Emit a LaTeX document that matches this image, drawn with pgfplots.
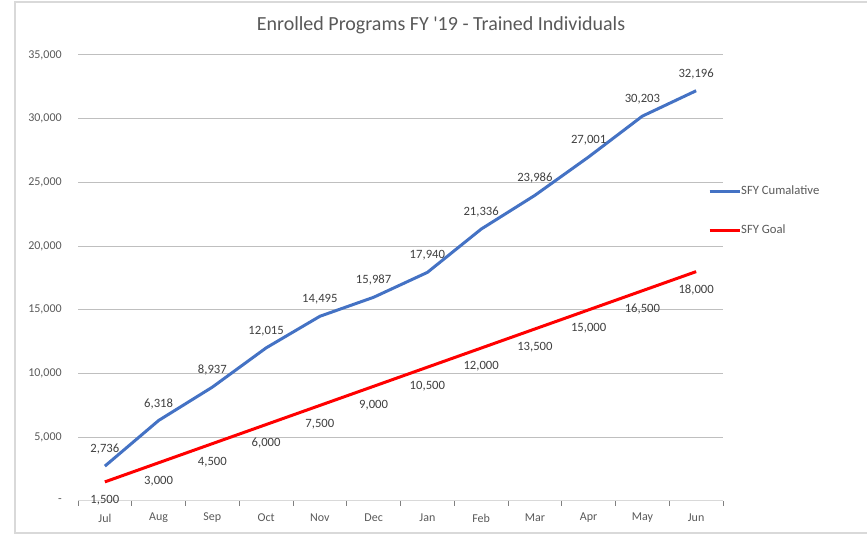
\documentclass[border=0pt]{standalone}
\usepackage{pgfplots}
\pgfplotsset{compat=1.18}
\usepackage{fontspec}
\setmainfont{Carlito}
\definecolor{cblue}{HTML}{4472C4}
\definecolor{cred}{HTML}{FF0000}
\definecolor{grid}{HTML}{D9D9D9}
\definecolor{txt}{HTML}{595959}
\definecolor{lbl}{HTML}{404040}
\begin{document}
\begin{tikzpicture}
\useasboundingbox (0,0) rectangle (650.25pt,401.25pt);
\draw[grid, line width=1.5pt] (11.25pt,1.5pt) rectangle (655pt,399.4pt);
\begin{axis}[
  at={(58.5pt,25.5pt)}, anchor=south west,
  scale only axis, width=483.75pt, height=334.5pt,
  xmin=-0.5, xmax=11.5, ymin=0, ymax=35000,
  axis line style={draw=none},
  axis x line*=bottom,
  xtick={0,...,11},
  xticklabels={Jul,Aug,Sep,Oct,Nov,Dec,Jan,Feb,Mar,Apr,May,Jun},
  minor xtick={-0.5,0.5,...,11.5},
  major tick length=0pt,
  minor tick length=3.75pt,
  tick align=outside,
  minor tick style={grid, line width=0.75pt},
  ytick={0,5000,...,35000},
  scaled y ticks=false,
  yticklabels={{-\hspace{3.75pt}},{5,000},{10,000},{15,000},{20,000},{25,000},{30,000},{35,000}},
  ymajorgrids, xmajorgrids=false,
  major grid style={grid, line width=0.75pt},
  xticklabel style={font=\fontsize{9}{10}\selectfont, text=txt, anchor=center, yshift=-12.75pt, inner sep=0pt},
  yticklabel style={font=\fontsize{9}{10}\selectfont, text=txt, anchor=east, inner sep=0pt, xshift=-12pt},
  /pgf/number format/.cd, fixed, precision=0, 1000 sep={,}, assume math mode=true,
  /pgfplots/.cd,
  title={Enrolled Programs FY \textquotesingle 19 - Trained Individuals},
  title style={at={(0.5628,1.0673)}, anchor=center, yshift=-6pt, font=\fontsize{15}{17}\selectfont, text=txt, inner sep=0pt},
  legend style={at={(0.9767,0.6513)}, anchor=west, draw=none, fill=none, inner sep=0pt,
    row sep=20.75pt, font=\fontsize{9.5}{10}\selectfont, text=txt,
    nodes={inner sep=0pt, text height=6.5pt, text depth=2pt}},
  legend cell align=left,
  legend image code/.code={\draw[#1, line width=2.25pt] (0pt,0pt) -- (22.5pt,0pt);},
  /tikz/every even column/.append style={column sep=1.5pt},
  nodes near coords,
  every node near coord/.append style={font=\fontsize{9.5}{10}\selectfont, text=lbl, anchor=center, inner sep=0pt},
  clip=false,
]
\addplot[cblue, line width=2.25pt, mark=none, every node near coord/.append style={yshift=12.75pt}]
  coordinates {(0,2736)(1,6318)(2,8937)(3,12015)(4,14495)(5,15987)(6,17940)(7,21336)(8,23986)(9,27001)(10,30203)(11,32196)};
\addlegendentry{SFY Cumalative}
\addplot[cred, line width=2.25pt, mark=none, every node near coord/.append style={yshift=-13.9pt}]
  coordinates {(0,1500)(1,3000)(2,4500)(3,6000)(4,7500)(5,9000)(6,10500)(7,12000)(8,13500)(9,15000)(10,16500)(11,18000)};
\addlegendentry{SFY Goal}
\draw[grid, line width=0.75pt] (rel axis cs:0,0) -- (rel axis cs:1,0);
\end{axis}
\end{tikzpicture}
\end{document}
